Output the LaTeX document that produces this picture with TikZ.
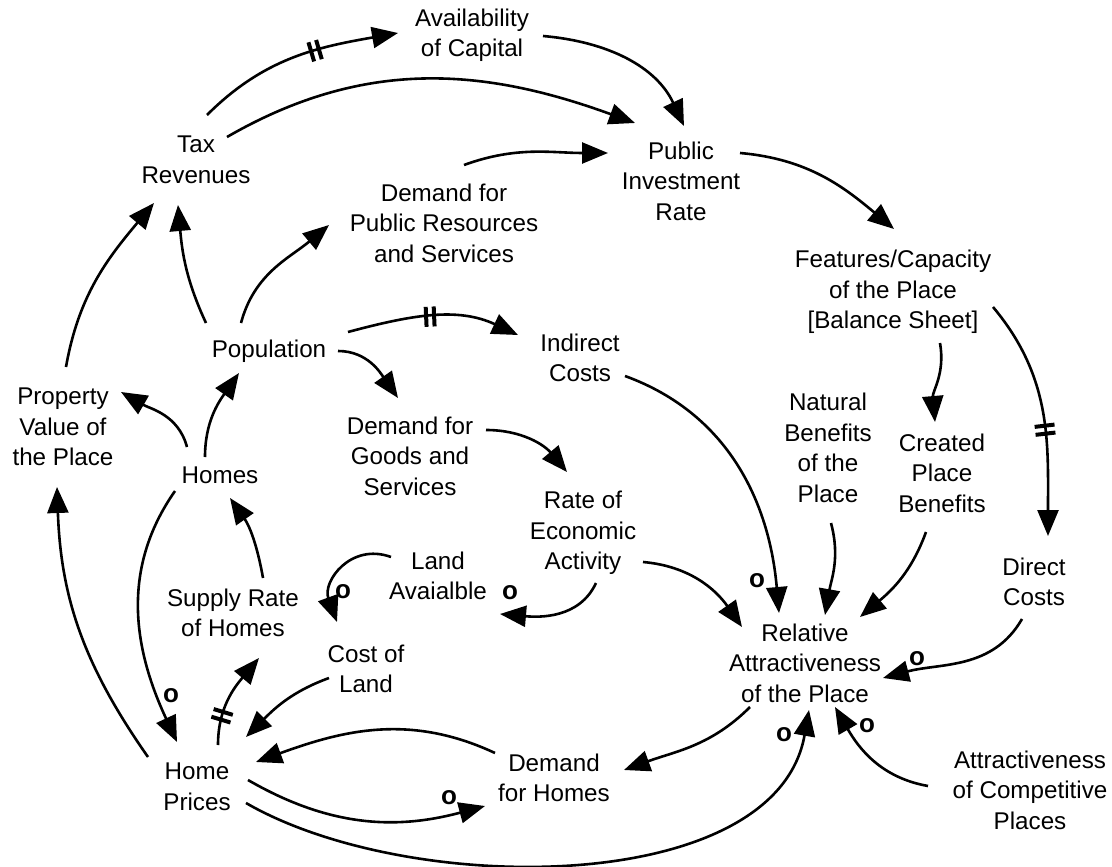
\documentclass[tikz,border=0pt]{standalone}
\usepackage{fontspec}
\setmainfont{Liberation Sans}
\usetikzlibrary{positioning,arrows.meta}
\usetikzlibrary{decorations.markings}
\tikzset{
  factor/.style={align=center, inner sep=0pt, font=\fontsize{24.2}{30.5}\selectfont},
  link/.style={line width=2.6pt, draw=black, -{Triangle[length=26pt,width=21pt]}},
  opp/.style={inner sep=0pt, font=\fontsize{26}{30.5}\selectfont\bfseries},
  delaymark/.style={postaction={decorate},
    decoration={markings,mark=at position #1 with {\draw[line width=4pt,-] (-4pt,-10pt) -- (-4pt,10pt) (4pt,-10pt) -- (4pt,10pt);}}}
}

\begin{document}
\begin{tikzpicture}[x=1pt, y=-1pt]
    \useasboundingbox (0,0) rectangle (1112,867);

    \node[factor] (avail)    at (472,35)   {Availability\\of Capital};
    \node[factor] (tax)      at (196,160)  {Tax\\Revenues};
    \node[factor] (pir)      at (681,181)  {Public\\Investment\\Rate};
    \node[factor] (dempub)   at (444,223)  {Demand for\\Public Resources\\and Services};
    \node[factor] (features) at (893,292)  {Features/Capacity\\of the Place\\{[}Balance Sheet{]}};
    \node[factor] (pop)      at (269,351)  {Population};
    \node[factor] (indirect) at (580,358)  {Indirect\\Costs};
    \node[factor] (property) at (63,427)   {Property\\Value of\\the Place};
    \node[factor] (homes)    at (220,475)  {Homes};
    \node[factor] (demgoods) at (410,456)  {Demand for\\Goods and\\Services};
    \node[factor] (natural)  at (828,448)  {Natural\\Benefits\\of the\\Place};
    \node[factor] (created)  at (942,473)  {Created\\Place\\Benefits};
    \node[factor] (rate)     at (583,533)  {Rate of\\Economic\\Activity};
    \node[factor] (land)     at (438,576)  {Land\\Avaialble};
    \node[factor] (supply)   at (233,613)  {Supply Rate\\of Homes};
    \node[factor] (cost)     at (366,669)  {Cost of\\Land};
    \node[factor] (direct)   at (1034,582) {Direct\\Costs};
    \node[factor] (relative) at (805,663)  {Relative\\Attractiveness\\of the Place};
    \node[factor] (hprices)  at (197,787)  {Home\\Prices};
    \node[factor] (demhomes) at (554,778)  {Demand\\for Homes};
    \node[factor] (attrcomp) at (1030,790) {Attractiveness\\of Competitive\\Places};

    % public investment loop
    \draw[link, delaymark=0.6] ([xshift=11pt,yshift=45pt]tax.center) to[out=45,in=190] ([xshift=-74pt,yshift=2pt]avail.center);
    \draw[link] ([xshift=71pt,yshift=-1pt]avail.center) to[out=-5,in=115] ([xshift=3pt,yshift=55pt]pir.center);
    \draw[link] ([xshift=31pt,yshift=23pt]tax.center) to[out=30,in=160] ([xshift=-46pt,yshift=58pt]pir.center);
    \draw[link] ([xshift=20pt,yshift=58pt]dempub.center) to[out=20,in=180] ([xshift=-73pt,yshift=28pt]pir.center);
    \draw[link] ([xshift=59pt,yshift=28pt]pir.center) to[out=-5,in=140] ([xshift=1pt,yshift=63pt]features.center);
    \draw[link, delaymark=0.56] ([xshift=100pt,yshift=-15pt]features.center) to[out=-50,in=90] ([xshift=14pt,yshift=46pt]direct.center);
    \draw[link] ([xshift=47pt,yshift=-51pt]features.center) to[out=-80,in=95] ([xshift=-7pt,yshift=51pt]created.center);

    % population
    \draw[link] ([xshift=-63pt,yshift=28pt]pop.center) to[out=115,in=-85] ([xshift=-18pt,yshift=-45pt]tax.center);
    \draw[link] ([xshift=-28pt,yshift=28pt]pop.center) to[out=75,in=220] ([xshift=-115pt,yshift=-2pt]dempub.center);
    \draw[link] ([xshift=3pt,yshift=60pt]property.center) to[out=80,in=230] ([xshift=-42pt,yshift=-43pt]tax.center);
    \draw[link] ([xshift=-33pt,yshift=28pt]homes.center) to[out=105,in=-30] ([xshift=58pt,yshift=35pt]property.center);
    \draw[link] ([xshift=-15pt,yshift=18pt]homes.center) to[out=90,in=235] ([xshift=-30pt,yshift=-22pt]pop.center);
    \draw[link, delaymark=0.48] ([xshift=79pt,yshift=19pt]pop.center) to[out=15,in=155] ([xshift=-62pt,yshift=23pt]indirect.center);
    \draw[link] ([xshift=69pt,yshift=0pt]pop.center) to[out=0,in=125] ([xshift=-12pt,yshift=58pt]demgoods.center);
    \draw[link] ([xshift=76pt,yshift=26pt]demgoods.center) to[out=0,in=130] ([xshift=-16pt,yshift=61pt]rate.center);

    % into relative attractiveness
    \draw[link] ([xshift=45pt,yshift=-18pt]indirect.center) to[out=-20,in=95] ([xshift=-26pt,yshift=50pt]relative.center);
    \draw[link] ([xshift=3pt,yshift=-75pt]natural.center) to[out=-75,in=80] ([xshift=20pt,yshift=48pt]relative.center);
    \draw[link] ([xshift=-16pt,yshift=-59pt]created.center) to[out=-110,in=40] ([xshift=55pt,yshift=46pt]relative.center);
    \draw[link] ([xshift=-12pt,yshift=-37pt]direct.center) to[out=-120,in=15] ([xshift=78pt,yshift=-15pt]relative.center);
    \draw[link] ([xshift=60pt,yshift=-29pt]rate.center) to[out=-5,in=125] ([xshift=-63pt,yshift=36pt]relative.center);
    \draw[link] ([xshift=-102pt,yshift=4pt]attrcomp.center) to[out=170,in=-60] ([xshift=30pt,yshift=-44pt]relative.center);
    \draw[link] ([xshift=-55pt,yshift=-44pt]relative.center) to[out=-135,in=20] ([xshift=70pt,yshift=8pt]demhomes.center);

    % land and homes
    \draw[link] ([xshift=13pt,yshift=-50pt]rate.center) to[out=-115,in=-5] ([xshift=62pt,yshift=-38pt]land.center);
    \draw[link] ([xshift=-47pt,yshift=19pt]land.center) to[out=160,in=110,looseness=1.3] ([xshift=-29pt,yshift=47pt]cost.center);
    \draw[link] ([xshift=30pt,yshift=35pt]supply.center) to[out=100,in=-55] ([xshift=10pt,yshift=-23pt]homes.center);
    \draw[link] ([xshift=-45pt,yshift=-16pt]homes.center) to[out=-125,in=115] ([xshift=-20pt,yshift=45pt]hprices.center);
    \draw[link] ([xshift=-49pt,yshift=30pt]hprices.center) to[out=125,in=-88] ([xshift=-6pt,yshift=-60pt]property.center);
    \draw[link, delaymark=0.3] ([xshift=21pt,yshift=42pt]hprices.center) to[out=90,in=230] ([xshift=26pt,yshift=-45pt]supply.center);
    \draw[link] ([xshift=-37pt,yshift=-9pt]cost.center) to[out=200,in=45] ([xshift=49pt,yshift=50pt]hprices.center);
    \draw[link] ([xshift=-59pt,yshift=25pt]demhomes.center) to[out=155,in=20] ([xshift=59pt,yshift=25pt]hprices.center);
    \draw[link] ([xshift=51pt,yshift=7pt]hprices.center) to[out=-30,in=195] ([xshift=-69pt,yshift=-28pt]demhomes.center);
    \draw[link] ([xshift=49pt,yshift=-16pt]hprices.center) to[out=-30,in=-100,looseness=0.85] ([xshift=4pt,yshift=-47pt]relative.center);

    % opposite polarity marks
    \node[opp] (oland)     at (343,592) {o};
    \node[opp] (orate)     at (510,593) {o};
    \node[opp] (oindirect) at (757,581) {o};
    \node[opp] (odirect)   at (917,659) {o};
    \node[opp] (oattr)     at (867,726) {o};
    \node[opp] (oprices)   at (784,735) {o};
    \node[opp] (odemand)   at (449,798) {o};
    \node[opp] (ohomes)    at (171,696) {o};
\end{tikzpicture}
\end{document}
